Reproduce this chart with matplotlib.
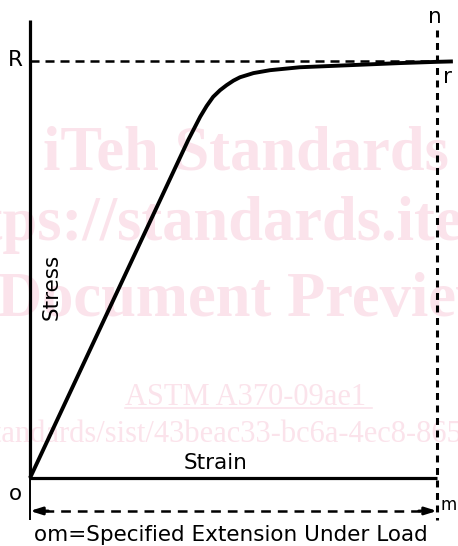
import matplotlib
matplotlib.use("Agg")
import matplotlib.pyplot as plt
from matplotlib.lines import Line2D

plt.rcParams['lines.scale_dashes'] = False

# stress-strain curve, strain as fraction of om, stress as fraction of oR
strain = [0, 0.389, 0.418, 0.434, 0.450, 0.467, 0.483, 0.500, 0.516, 0.549, 0.590,
          0.663, 0.786, 0.909, 1.0, 1.039]
stress = [0, 0.811, 0.866, 0.892, 0.914, 0.930, 0.942, 0.953, 0.961, 0.971, 0.978,
          0.985, 0.990, 0.995, 0.998, 0.999]

x_label = "Strain"
y_label = "Stress"
caption = "om=Specified Extension Under Load"

# faint watermark lines: (text, left px, baseline px, size, bold)
watermark = [
    ("iTeh Standards", 43, 170, 45, True),
    ("https://standards.iteh.ai", -74, 240, 45, True),
    ("Document Preview", -3, 316, 45, True),
    ("ASTM A370-09ae1", 125, 405, 22, False),
    ("standards/sist/43beac33-bc6a-4ec8-8657", -18, 442, 22, False),
]
wm_color = "#fbe3eb"

W, H = 458, 546
fig = plt.figure(figsize=(W / 100, H / 100), dpi=100)
ax = fig.add_axes([0, 0, 1, 1])
# pixel layout: origin at (30, 478), m at x=437, R at y=61
ax.set_xlim(-30 / 407, 428 / 407)
ax.set_ylim((478 - 546) / 417, 478 / 417)
ax.axis('off')

for text, px, py, size, bold in watermark:
    ax.text(px / W, 1 - py / H, text, transform=fig.transFigure, fontsize=size,
            family="Liberation Serif", weight="bold" if bold else "normal",
            color=wm_color, ha="left", va="baseline", zorder=0, clip_on=False)
# underline of the ASTM line
ax.add_line(Line2D([125 / W, 372 / W], [1 - 408 / H, 1 - 408 / H], transform=fig.transFigure,
                   color=wm_color, lw=1.2, zorder=0))

# axes
ax.plot([0, 0], [0, 1.098], color="black", lw=2.3, solid_capstyle="butt", zorder=2)
ax.plot([0, 0], [0, -0.10], color="black", lw=1.4, solid_capstyle="butt", zorder=2)
ax.plot([0, 1.0], [0, 0], color="black", lw=2.3, solid_capstyle="butt", zorder=2)

# R dashed line and m dashed line
ax.plot([0, 1.0], [1, 1], color="black", lw=1.8, dashes=(6.5, 4.3), zorder=2)
ax.plot([1, 1], [1.074, -0.10], color="black", lw=2.2, dashes=(5, 4), zorder=2)

# curve
ax.plot(strain, stress, color="black", lw=2.8, solid_joinstyle="round",
        solid_capstyle="butt", zorder=3)

# om dimension line
ax.plot([0.035, 0.965], [-0.079, -0.079], color="black", lw=1.8, dashes=(7, 5), zorder=2)
for x_tip, x_tail in [(0, 0.045), (1, 0.955)]:
    ax.annotate("", xy=(x_tip, -0.079), xytext=(x_tail, -0.079),
                arrowprops=dict(arrowstyle="-|>,head_length=0.7,head_width=0.22",
                                lw=2, color="black", shrinkA=0, shrinkB=0))

# labels
fs = 15.5
ax.text(-0.037, 1.002, "R", fontsize=fs, ha="center", va="center")
ax.text(0.995, 1.106, "n", fontsize=fs, ha="center", va="center")
ax.text(1.027, 0.962, "r", fontsize=fs, ha="center", va="center")
ax.text(-0.037, -0.038, "o", fontsize=fs, ha="center", va="center")
ax.text(1.029, -0.065, "m", fontsize=12, ha="center", va="center")
ax.text(0.457, 0.036, x_label, fontsize=fs, ha="center", va="center")
ax.text(0.052, 0.458, y_label, fontsize=fs, ha="center", va="center", rotation=90)
ax.text(0.494, -0.137, caption, fontsize=fs, ha="center", va="center")

fig.savefig("out.png", dpi=100)
